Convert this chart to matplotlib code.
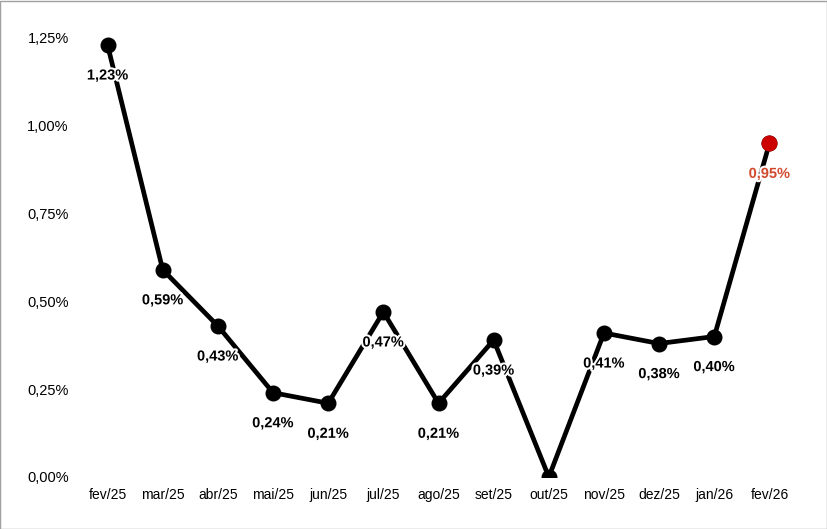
import matplotlib
matplotlib.use("Agg")
import matplotlib.pyplot as plt
import matplotlib.patheffects as pe
from matplotlib.patches import Rectangle

categories = ["fev/25", "mar/25", "abr/25", "mai/25", "jun/25", "jul/25", "ago/25",
              "set/25", "out/25", "nov/25", "dez/25", "jan/26", "fev/26"]
values = [1.23, 0.59, 0.43, 0.24, 0.21, 0.47, 0.21, 0.39, 0.00, 0.41, 0.38, 0.40, 0.95]
yticks = [0.0, 0.25, 0.5, 0.75, 1.0, 1.25]

plt.rcParams['font.family'] = ['Liberation Sans', 'DejaVu Sans']

fig = plt.figure(figsize=(8.28, 5.29), dpi=100)
ax = fig.add_axes([0.0966, 0.0983, 0.866, 0.8764])

x = list(range(len(categories)))
ax.plot(x, values, color='black', lw=3.4, marker='o', ms=10.5,
        markerfacecolor='black', markeredgecolor='black', zorder=3, solid_capstyle='round')
ax.plot([x[-1]], [values[-1]], marker='o', ms=10.5, color='#cc0000', zorder=4, ls='none')

halo = [pe.withStroke(linewidth=3, foreground='white')]
for i, v in enumerate(values):
    if v <= 0:
        continue
    col = '#d24a2e' if i == len(values) - 1 else 'black'
    ax.annotate(f"{v:.2f}%".replace('.', ','), xy=(i, v), xytext=(0, -22),
                textcoords='offset points', ha='center', va='center',
                fontsize=10.5, fontweight='bold', color=col, path_effects=halo, zorder=5,
                annotation_clip=False)

ax.set_xlim(-0.5, len(categories) - 0.5)
ax.set_ylim(0, 1.32)
ax.set_xticks(x)
ax.set_xticklabels(categories, fontsize=10)
ax.set_yticks(yticks)
ax.set_yticklabels([f"{t:.2f}%".replace('.', ',') for t in yticks], fontsize=10.5)
ax.tick_params(length=0, pad=8)
for s in ax.spines.values():
    s.set_visible(False)

fig.patches.append(Rectangle((0.5 / 828, 0.5 / 529), 1 - 1 / 828, 1 - 1 / 529,
                             transform=fig.transFigure, fill=False,
                             edgecolor='#a0a0a0', lw=1))

fig.savefig("out.png", dpi=100)
